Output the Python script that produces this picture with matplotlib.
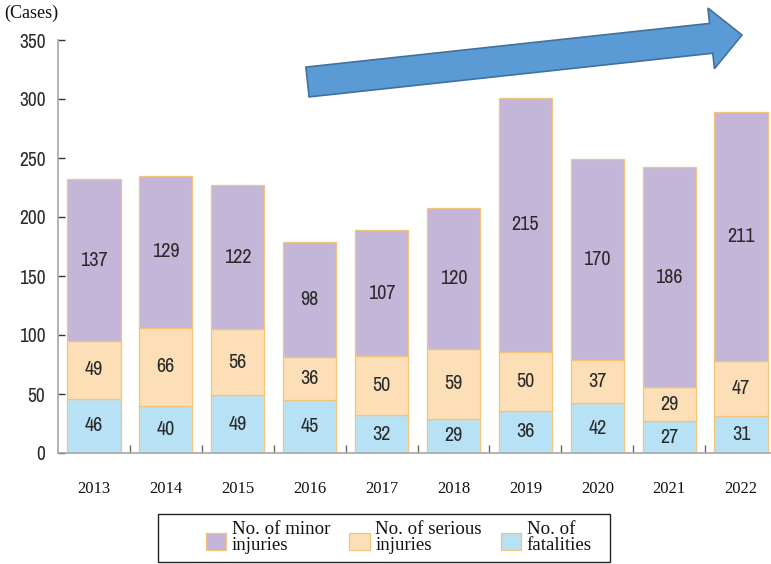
import matplotlib
matplotlib.use("Agg")
import matplotlib.pyplot as plt
from matplotlib.patches import FancyArrow, Patch, Rectangle
from matplotlib.legend_handler import HandlerPatch
from matplotlib import font_manager
import numpy as np

years = ["2013", "2014", "2015", "2016", "2017", "2018", "2019", "2020", "2021", "2022"]
fatalities = [46, 40, 49, 45, 32, 29, 36, 42, 27, 31]
serious = [49, 66, 56, 36, 50, 59, 50, 37, 29, 47]
minor = [137, 129, 122, 98, 107, 120, 215, 170, 186, 211]
yticks = [0, 50, 100, 150, 200, 250, 300, 350]

c_minor = "#c4b6d9"
c_serious = "#fcdfb6"
c_fatal = "#b7e1f5"
c_edge = "#f1c47e"

# narrow sans face for the numbers
installed = {f.name for f in font_manager.fontManager.ttflist}
narrow = next((n for n in ["Liberation Sans Narrow", "Archivo Narrow",
                           "Asap Condensed", "Barlow Condensed", "Liberation Sans"]
               if n in installed), "DejaVu Sans")
serif = "Liberation Serif"

W, H = 771, 564
fig = plt.figure(figsize=(W / 100, H / 100), dpi=100)
ax = fig.add_axes([58 / W, (H - 453) / H, (777 - 58) / W, 413 / H])

x = np.arange(len(years))
width = 0.74
fat = np.array(fatalities)
ser = np.array(serious)
mnr = np.array(minor)

layers = [(fat, np.zeros_like(fat), c_fatal),
          (ser, fat, c_serious),
          (mnr, fat + ser, c_minor)]
for vals, base, col in layers:
    bars = ax.bar(x, vals, width, bottom=base, color=col, edgecolor=c_edge,
                  linewidth=0.9, zorder=2)
    for b, v, b0 in zip(bars, vals, base):
        ax.text(b.get_x() + b.get_width() / 2, b0 + v / 2, str(v),
                ha="center", va="center", family=narrow, fontsize=14.5,
                fontweight="normal", color="#2a2a2a", zorder=3)

ax.set_xlim(-0.5, len(years) - 0.5)
ax.set_ylim(0, 350)
ax.set_yticks(yticks)
ax.set_yticklabels([str(t) for t in yticks], family=narrow, fontsize=14,
                   color="#2a2a2a")
ax.tick_params(axis="y", direction="in", length=5, width=1, color="#333333", pad=9)

ax.set_xticks(x)
ax.set_xticklabels(years, family=serif, fontsize=12, color="#111111")
ax.tick_params(axis="x", which="major", length=0, pad=20)
ax.set_xticks(np.arange(0.5, len(years) - 0.5, 1), minor=True)
ax.tick_params(axis="x", which="minor", direction="in", length=6, width=1,
               color="#666666")

for side in ["top", "right"]:
    ax.spines[side].set_visible(False)
for side in ["left", "bottom"]:
    ax.spines[side].set_color("#a6a6a6")
    ax.spines[side].set_linewidth(1.2)

fig.text(4 / W, 1 - 13 / H, "(Cases)", family=serif, fontsize=13,
         ha="left", va="center", color="#111111")

# upward trend arrow
px = fig.dpi_scale_trans
x0, y0 = 307.5 / 100, (H - 82) / 100
x1, y1 = 742 / 100, (H - 35) / 100
arrow = FancyArrow(x0, y0, x1 - x0, y1 - y0, width=0.30, head_width=0.61,
                   head_length=0.31, length_includes_head=True,
                   transform=px, facecolor="#5b9bd5", edgecolor="#41719c",
                   linewidth=1.2, zorder=5)
fig.patches.append(arrow)


def swatch(legend, orig_handle, xdescent, ydescent, width, height, fontsize):
    return Rectangle((-xdescent, -4.6), width, 12.2)


handles = [Patch(facecolor=c_minor, edgecolor=c_edge, linewidth=0.9),
           Patch(facecolor=c_serious, edgecolor=c_edge, linewidth=0.9),
           Patch(facecolor=c_fatal, edgecolor=c_edge, linewidth=0.9)]
labels = ["No. of minor\ninjuries", "No. of serious\ninjuries", "No. of\nfatalities"]
leg = fig.legend(handles, labels, ncol=3, loc="center left",
                 bbox_to_anchor=(206 / W, 1 - 537.5 / H),
                 prop={"family": serif, "size": 13.6}, frameon=False,
                 handlelength=1.08, handleheight=1.0, handletextpad=0.3,
                 columnspacing=1.0, borderpad=0, borderaxespad=0,
                 handler_map={Patch: HandlerPatch(patch_func=swatch)})
for t in leg.get_texts():
    t.set_linespacing(0.95)
    t.set_color("#111111")

# legend frame
fig.patches.append(Rectangle((158 / W, 1 - 562 / H), (610 - 158) / W, (562 - 514) / H,
                             transform=fig.transFigure, fill=False,
                             edgecolor="#222222", linewidth=1.0))

fig.savefig("out.png", dpi=100)
